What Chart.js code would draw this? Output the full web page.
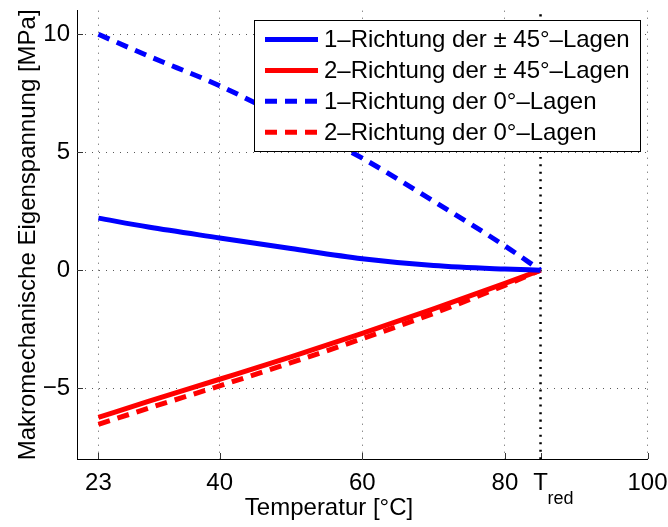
<!DOCTYPE html>
<html>
<head>
<meta charset="utf-8">
<script src="https://cdn.jsdelivr.net/npm/chart.js@4.4.1/dist/chart.umd.min.js"></script>
<style>
  html, body { margin: 0; padding: 0; background: #fff; }
  canvas { display: block; }
</style>
</head>
<body>
<canvas id="chart" width="668" height="527"></canvas>
<script>
// temperatures in °C, stresses in MPa
const temperatures = [23, 30, 40, 50, 60, 70, 80, 85];
const dir1Pm45 = [2.21, 1.83, 1.37, 0.92, 0.49, 0.2, 0.05, 0];
const dir2Pm45 = [-6.24, -5.56, -4.62, -3.67, -2.68, -1.64, -0.56, 0];
const dir1Zero = [10.0, 9.08, 7.82, 6.32, 4.75, 2.93, 1.03, 0];
const dir2Zero = [-6.53, -5.85, -4.9, -3.92, -2.9, -1.83, -0.64, 0];

const seriesLabels = [
  "1\u2013Richtung der \u00b1 45\u00b0\u2013Lagen",
  "2\u2013Richtung der \u00b1 45\u00b0\u2013Lagen",
  "1\u2013Richtung der 0\u00b0\u2013Lagen",
  "2\u2013Richtung der 0\u00b0\u2013Lagen",
];

const tRed = 85;
const tRedSpan = [-8, 11];
const xTicks = [23, 40, 60, 80, 85, 100];
const yTicks = [-5, 0, 5, 10];
const xRange = [20, 100];
const yRange = [-8, 11];

const FONT = '"Liberation Sans", Arial, sans-serif';

const toPoints = (ys) => temperatures.map((t, i) => ({ x: t, y: ys[i] }));

// legend box drawn inside the plot area, top right
const boxLegend = {
  id: "boxLegend",
  afterDatasetsDraw(chart) {
    const { ctx, chartArea } = chart;
    const items = chart.data.datasets.filter((d) => !d.noLegend);
    const w = 386, h = 131;
    const x0 = Math.round(chartArea.right - 7.5 - w);
    const y0 = Math.round(chartArea.top + 9);
    ctx.save();
    ctx.fillStyle = "#fff";
    ctx.fillRect(x0, y0, w, h);
    ctx.strokeStyle = "#000";
    ctx.lineWidth = 1;
    ctx.strokeRect(x0 + 0.5, y0 + 0.5, w, h);
    items.forEach((ds, i) => {
      const y = y0 + 19.5 + i * 30.9;
      ctx.beginPath();
      ctx.setLineDash(ds.borderDash || []);
      ctx.strokeStyle = ds.borderColor;
      ctx.lineWidth = ds.borderWidth;
      ctx.moveTo(x0 + 11, y);
      ctx.lineTo(x0 + 64, y);
      ctx.stroke();
      ctx.setLineDash([]);
      ctx.fillStyle = "#000";
      ctx.font = "24px " + FONT;
      ctx.textBaseline = "middle";
      ctx.textAlign = "left";
      ctx.fillText(ds.label, x0 + 70, y + 1);
    });
    ctx.restore();
  },
};

// inward tick marks (MATLAB style), subscript of T_red, x axis title
const extras = {
  id: "extras",
  beforeDatasetsDraw(chart) {
    const { ctx, chartArea, scales } = chart;
    ctx.save();
    ctx.strokeStyle = "#333";
    ctx.lineWidth = 1;
    scales.x.ticks.forEach((t) => {
      const px = Math.round(scales.x.getPixelForValue(t.value)) + 0.5;
      ctx.beginPath();
      ctx.moveTo(px, chartArea.bottom);
      ctx.lineTo(px, chartArea.bottom - 6);
      ctx.stroke();
    });
    scales.y.ticks.forEach((t) => {
      const py = Math.round(scales.y.getPixelForValue(t.value)) + 0.5;
      ctx.beginPath();
      ctx.moveTo(chartArea.left, py);
      ctx.lineTo(chartArea.left + 6, py);
      ctx.stroke();
    });
    ctx.restore();
  },
  afterDraw(chart) {
    const { ctx, chartArea, scales } = chart;
    ctx.save();
    ctx.fillStyle = "#000";
    ctx.textBaseline = "alphabetic";
    ctx.textAlign = "left";
    ctx.font = "18px " + FONT;
    const px = scales.x.getPixelForValue(tRed);
    ctx.fillText("red", px + 7, chartArea.bottom + 45);
    ctx.font = "24px " + FONT;
    ctx.textAlign = "center";
    ctx.textBaseline = "middle";
    ctx.fillText("Temperatur [\u00b0C]", chartArea.left + 252, 508);
    ctx.restore();
  },
};

const gridDash = [1, 6];

new Chart(document.getElementById("chart"), {
  type: "line",
  data: {
    datasets: [
      { label: seriesLabels[0], data: toPoints(dir1Pm45), borderColor: "#0000ff", borderWidth: 5 },
      { label: seriesLabels[1], data: toPoints(dir2Pm45), borderColor: "#ff0000", borderWidth: 5 },
      { label: seriesLabels[2], data: toPoints(dir1Zero), borderColor: "#0000ff", borderWidth: 5, borderDash: [12, 8] },
      { label: seriesLabels[3], data: toPoints(dir2Zero), borderColor: "#ff0000", borderWidth: 5, borderDash: [12, 8] },
      {
        label: "T_red",
        noLegend: true,
        data: tRedSpan.map((y) => ({ x: tRed, y })),
        borderColor: "#000",
        borderWidth: 2.5,
        borderDash: [2, 5.5],
      },
    ],
  },
  options: {
    responsive: false,
    animation: false,
    events: [],
    layout: { padding: 0 },
    elements: {
      point: { radius: 0 },
      line: { cubicInterpolationMode: "monotone", borderCapStyle: "butt" },
    },
    plugins: { legend: { display: false }, tooltip: { enabled: false } },
    scales: {
      x: {
        type: "linear",
        min: xRange[0],
        max: xRange[1],
        afterBuildTicks: (scale) => { scale.ticks = xTicks.map((v) => ({ value: v })); },
        afterFit: (scale) => {
          scale.height = 68;
          scale.paddingLeft = 0;
          scale.paddingRight = 20.5;
        },
        ticks: {
          autoSkip: false,
          maxRotation: 0,
          padding: 10,
          color: "#000",
          font: { family: FONT, size: 24 },
          callback: (v) => (v === tRed ? "T" : String(v)),
        },
        grid: {
          drawTicks: false,
          color: (c) => (c.tick && c.tick.value === tRed ? "rgba(0,0,0,0)" : "rgba(0,0,0,0.65)"),
          lineWidth: 1,
        },
        border: { display: true, color: "#000", width: 1, dash: gridDash },
      },
      y: {
        type: "linear",
        min: yRange[0],
        max: yRange[1],
        afterBuildTicks: (scale) => { scale.ticks = yTicks.map((v) => ({ value: v })); },
        afterFit: (scale) => {
          scale.width = 77;
          scale.paddingTop = 10.7;
          scale.paddingBottom = 0;
        },
        ticks: {
          padding: 7,
          color: "#000",
          font: { family: FONT, size: 24 },
          callback: (v) => (v < 0 ? "\u2212" + Math.abs(v) : String(v)),
        },
        grid: { drawTicks: false, color: "rgba(0,0,0,0.65)", lineWidth: 1 },
        border: { display: true, color: "#000", width: 1, dash: gridDash },
        title: {
          display: true,
          text: "Makromechanische Eigenspannung [MPa]",
          color: "#000",
          font: { family: FONT, size: 24 },
          padding: { top: 14, bottom: 0 },
        },
      },
    },
  },
  plugins: [extras, boxLegend],
});
</script>
</body>
</html>
